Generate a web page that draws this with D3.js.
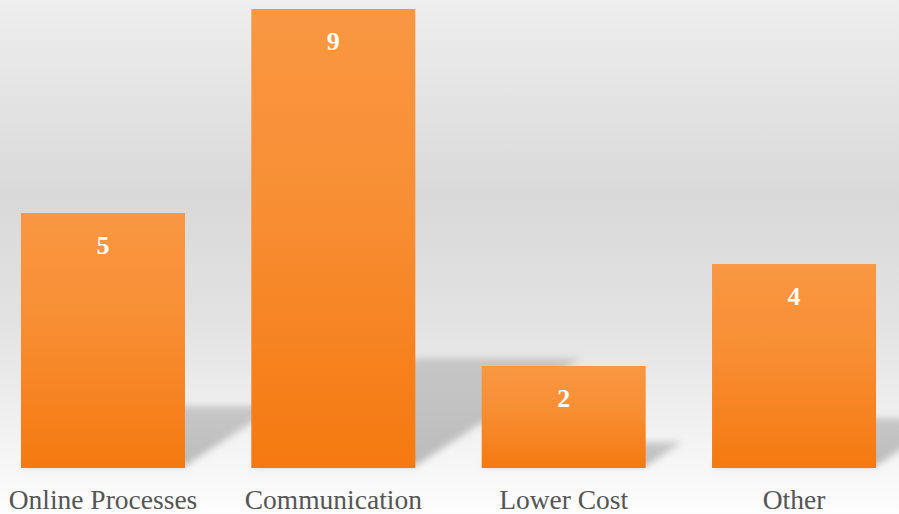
<!DOCTYPE html>
<html><head><meta charset="utf-8">
<script src="https://cdn.jsdelivr.net/npm/d3@7"></script>
<style>html,body{margin:0;padding:0;background:#fff}svg{display:block}</style>
</head><body>
<svg id="c" width="899" height="514"></svg>
<script>
const categories = ["Online Processes", "Communication", "Lower Cost", "Other"];
const values = [5, 9, 2, 4];

const W = 899, H = 514;
const svg = d3.select("#c");
const defs = svg.append("defs");

const bg = defs.append("linearGradient").attr("id","bg").attr("x1",0).attr("y1",0).attr("x2",0).attr("y2",1);
[[0,"#eeeeee"],[0.38,"#d9d9d9"],[0.62,"#e2e2e2"],[0.86,"#f3f3f3"],[1,"#fdfdfd"]].forEach(([o,c])=>bg.append("stop").attr("offset",o).attr("stop-color",c));

const bar = defs.append("linearGradient").attr("id","bar").attr("x1",0).attr("y1",0).attr("x2",0).attr("y2",1);
[[0,"#f99742"],[0.4,"#f88f35"],[1,"#f57910"]].forEach(([o,c])=>bar.append("stop").attr("offset",o).attr("stop-color",c));

const sh = defs.append("linearGradient").attr("id","sh").attr("x1",0).attr("y1",1).attr("x2",0).attr("y2",0);
[[0,"#b8b8b8",0.95],[1,"#bdbdbd",0.8]].forEach(([o,c,op])=>sh.append("stop").attr("offset",o).attr("stop-color",c).attr("stop-opacity",op));

defs.append("filter").attr("id","blur").attr("x","-20%").attr("y","-20%").attr("width","140%").attr("height","140%")
  .append("feGaussianBlur").attr("stdDeviation",3.5);

svg.append("rect").attr("width",W).attr("height",H).attr("fill","url(#bg)");

const x = d3.scaleBand().domain(categories).range([0, 897]).paddingInner(0.288).paddingOuter(0.091);
const y = d3.scaleLinear().domain([0, 9]).range([468, 9]);

const data = categories.map((c,i)=>({c, v: values[i]}));

// perspective shadows
svg.append("g").selectAll("path").data(data).join("path")
  .attr("fill","url(#sh)")
  .attr("filter","url(#blur)")
  .attr("d", d => {
    const x0 = x(d.c), x1 = x0 + x.bandwidth();
    const h = y(0) - y(d.v);
    const dy = h * 0.235, dx = h * 0.36;
    const b = y(0) - 2;
    return `M${x0},${b} L${x1},${b} L${x1+dx},${b-dy} L${x0+dx},${b-dy} Z`;
  });

svg.append("g").selectAll("rect").data(data).join("rect")
  .attr("x", d => x(d.c)).attr("width", x.bandwidth())
  .attr("y", d => y(d.v)).attr("height", d => y(0) - y(d.v))
  .attr("fill","url(#bar)");

svg.append("g").selectAll("text").data(data).join("text")
  .attr("x", d => x(d.c) + x.bandwidth()/2)
  .attr("y", d => y(d.v) + 41)
  .attr("text-anchor","middle")
  .attr("font-family","'Liberation Serif', 'DejaVu Serif', serif")
  .attr("font-weight","bold").attr("font-size",26).attr("fill","#ffffff")
  .text(d => d.v);

const xAxis = d3.axisBottom(x).tickSize(0).tickPadding(0);
const ax = svg.append("g").attr("transform","translate(0,509)").call(xAxis);
ax.select(".domain").remove();
ax.selectAll("text")
  .attr("dy","0")
  .attr("font-family","'Liberation Serif', 'DejaVu Serif', serif")
  .attr("font-size",27.5).attr("fill","#555555");
</script>
</body></html>
